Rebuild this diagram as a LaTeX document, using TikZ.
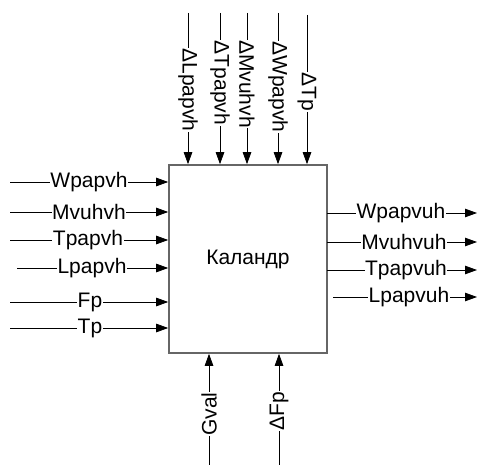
\documentclass[tikz,border=0pt]{standalone}
\usepackage{fontspec}
\setmainfont{Liberation Sans}
\usetikzlibrary{arrows.meta}
\begin{document}
\begin{tikzpicture}[x=1pt,y=-1pt,
  lbl/.style={fill=white,inner sep=0.5pt,font=\fontsize{21}{23}\selectfont},
  conn/.style={draw=black,line width=0.8pt,-{Triangle[length=12pt,width=8.5pt]}},
  blk/.style={draw=black!60,line width=1.6pt,minimum width=158pt,minimum height=188pt,inner sep=0pt,font=\fontsize{21}{23}\selectfont}]
\useasboundingbox (0,0) rectangle (479,465);
\node[blk] (box) at (248,259) {Каландр};
% left inputs
\foreach \n/\t/\y/\sx/\lx in {i1/Wpapvh/182/10/89, i2/Mvuhvh/212/10/89, i3/Tpapvh/240/10/88, i4/Lpapvh/268/17/92, i5/Fp/302/10/90, i6/Tp/328/10/90}{
  \coordinate (\n s) at (\sx,\y);
  \draw[conn] (\n s) -- (\n s -| box.west);
  \node[lbl] (\n l) at (\lx,\y) {\t};
}
% right outputs
\foreach \n/\t/\y/\sx/\lx in {o1/Wpapvuh/213/327/401, o2/Mvuhvuh/242/327/404, o3/Tpapvuh/270/327/406, o4/Lpapvuh/297/333/409}{
  \coordinate (\n s) at (\sx,\y);
  \coordinate (\n e) at (477,\y);
  \draw[conn] (\n s) -- (\n e);
  \node[lbl] (\n l) at (\lx,\y) {\t};
}
% top inputs
\foreach \n/\t/\x/\sy/\ly in {t1/ΔLpapvh/188/13/90, t2/ΔTpapvh/220/13/83, t3/ΔMvuhvh/247/13/84, t4/ΔWpapvh/278/13/87, t5/ΔTp/307/15/92}{
  \coordinate (\n s) at (\x,\sy);
  \draw[conn] (\n s) -- (\n s |- box.north);
  \node[lbl,rotate=-90] (\n l) at (\x,\ly) {\t};
}
% bottom inputs
\foreach \n/\t/\x/\ly in {b1/Gval/209/414, b2/ΔFp/279/411}{
  \coordinate (\n s) at (\x,465);
  \draw[conn] (\n s) -- (\n s |- box.south);
  \node[lbl,rotate=90] (\n l) at (\x,\ly) {\t};
}
\end{tikzpicture}
\end{document}
